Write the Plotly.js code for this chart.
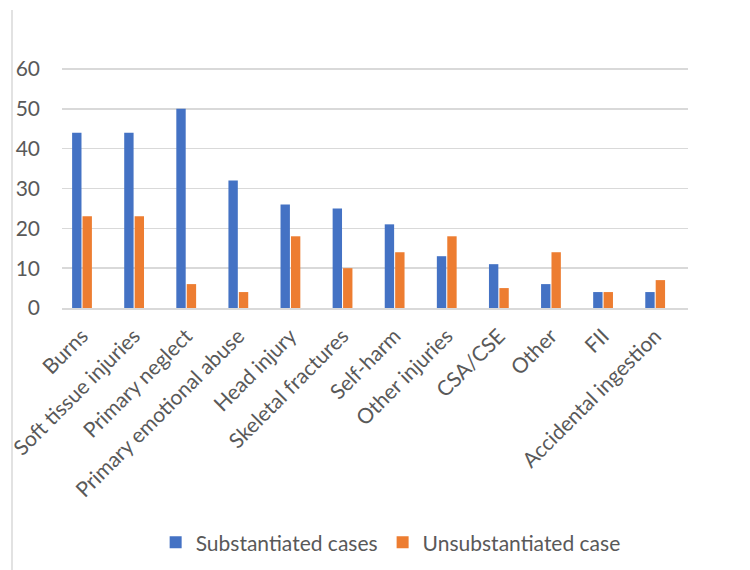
<!DOCTYPE html>
<html><head><meta charset="utf-8">
<script src="https://cdn.plot.ly/plotly-3.0.1.min.js"></script>
<style>html,body{margin:0;padding:0;background:#fff}</style>
</head><body>
<div id="chart" style="width:750px;height:570px"></div>
<script>
const categories = ["Burns","Soft tissue injuries","Primary neglect","Primary emotional abuse","Head injury","Skeletal fractures","Self-harm","Other injuries","CSA/CSE","Other","FII","Accidental ingestion"];
const substantiated = [44,44,50,32,26,25,21,13,11,6,4,4];
const unsubstantiated = [23,23,6,4,18,10,14,18,5,14,4,7];
const yTicks = [0,10,20,30,40,50,60];

const font = "Lato, 'Open Sans', sans-serif";
const data = [
  {type:'bar', name:'Substantiated cases', x:categories.map((c,i)=>i), y:substantiated,
   marker:{color:'#4472c4'}},
  {type:'bar', name:'Unsubstantiated case', x:categories.map((c,i)=>i), y:unsubstantiated,
   marker:{color:'#ed7d31'}}
];
const layout = {
  width:750, height:570,
  margin:{l:62, r:62, t:61, b:262, autoexpand:false},
  paper_bgcolor:'#fff', plot_bgcolor:'#fff',
  barmode:'group', bargap:0.6, bargroupgap:0.1,
  font:{family:font, color:'#595959', size:20},
  showlegend:true,
  legend:{orientation:'h', x:0.525, xanchor:'center', y:-0.95, yanchor:'middle',
          font:{size:21, color:'#595959'}, itemwidth:30, traceorder:'normal'},
  xaxis:{tickmode:'array', tickvals:categories.map((c,i)=>i), ticktext:categories,
         range:[-0.384, 11.63], tickangle:-45, showgrid:false, zeroline:false,
         showline:true, linecolor:'#d9d9d9', linewidth:1.5, ticks:'',
         ticklabelstandoff:6, automargin:false,
         tickfont:{size:21, color:'#595959'}, fixedrange:true},
  yaxis:{range:[0,62], tickmode:'array', tickvals:yTicks, showgrid:true,
         gridcolor:'#d9d9d9', gridwidth:1.5, zeroline:false, showline:false, ticks:'',
         ticklabelstandoff:21, automargin:false, tickfont:{size:21, color:'#595959'}, fixedrange:true},
  shapes:[{type:'line', xref:'paper', yref:'paper', x0:-50/626, x1:-50/626,
           y0:(308-10)/247, y1:(308-570)/247, line:{color:'#d9d9d9', width:1.5}}]
};
Plotly.newPlot('chart', data, layout, {displayModeBar:false, staticPlot:true});
</script>
</body></html>
